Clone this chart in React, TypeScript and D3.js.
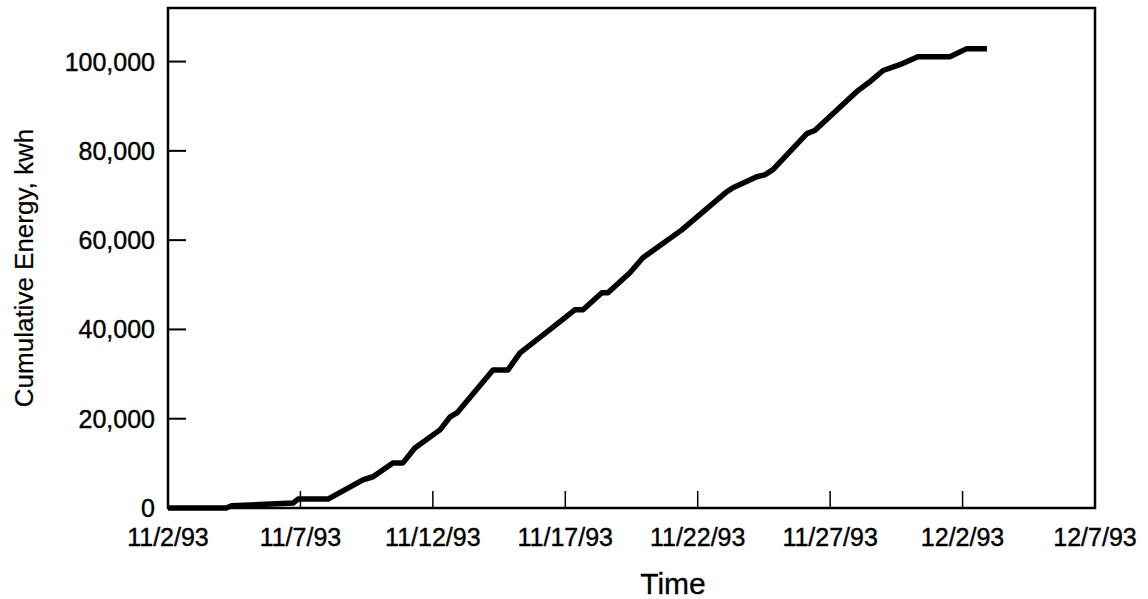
import React from "react";
import * as d3 from "d3";

// Days elapsed since 11/2/93 00:00 and cumulative energy (kWh)
const dayOffsets = [
  0, 2.2, 2.4, 4.72, 4.91, 6.04, 7.36, 7.74, 8.49, 8.87, 9.32, 10.27, 10.65, 10.91,
  12.27, 12.83, 13.29, 14.31, 15.36, 15.67, 16.38, 16.61, 17.44, 17.93, 19.4, 21.1,
  21.33, 22.23, 22.54, 22.84, 24.12, 24.42, 26.05, 26.46, 27.0, 27.63, 28.31, 29.52,
  30.16, 30.92,
];
const kwhValues = [
  0, 0, 500, 1100, 2000, 2000, 6300, 7000, 10100, 10100, 13450, 17500, 20400, 21300,
  30900, 30900, 34750, 39460, 44400, 44400, 48200, 48200, 52700, 56050, 62300, 70850,
  71750, 74200, 74650, 75800, 83850, 84550, 93500, 95300, 98000, 99300, 101100, 101100,
  102900, 102900,
];
const yTickValues = [0, 20000, 40000, 60000, 80000, 100000];
const xTickDays = [0, 5, 10, 15, 20, 25, 30, 35];
const startDate = new Date(1993, 10, 2);
const endDate = new Date(1993, 11, 7);
const yMax = 112000;
const xTitle = "Time";
const yTitle = "Cumulative Energy, kwh";

const W = 1148;
const H = 599;
const M = { left: 168, top: 8, right: 1095, bottom: 508 };
const FONT = "'Liberation Sans', Arial, Helvetica, sans-serif";
const DAY = 24 * 3600 * 1000;

export default function App() {
  const x = d3.scaleTime().domain([startDate, endDate]).range([M.left, M.right]);
  const y = d3.scaleLinear().domain([0, yMax]).range([M.bottom, M.top]);
  const toDate = (d: number) => new Date(startDate.getTime() + d * DAY);
  const data = dayOffsets.map((d, i) => ({ t: toDate(d), v: kwhValues[i] }));
  const line = d3
    .line<{ t: Date; v: number }>()
    .x((d) => x(d.t))
    .y((d) => y(d.v))
    .curve(d3.curveLinear);
  const fmtX = d3.timeFormat("%-m/%-d/%y");
  const fmtY = d3.format(",");
  const xTicks = xTickDays.map(toDate);

  return (
    <svg
      width={W}
      height={H}
      style={{ position: "absolute", left: 0, top: 0, background: "#fff" }}
      fontFamily={FONT}
    >
      <rect x={0} y={0} width={W} height={H} fill="#fff" />
      {/* Y ticks (inward) */}
      {yTickValues.map((v) => (
        <g key={v}>
          <line x1={M.left} x2={M.left + 18} y1={y(v)} y2={y(v)} stroke="#000" strokeWidth={2} />
          <text
            x={155}
            y={y(v)}
            textAnchor="end"
            dominantBaseline="central"
            fontSize={25}
            fill="#000"
            stroke="#000"
            strokeWidth={0.4}
          >
            {fmtY(v)}
          </text>
        </g>
      ))}
      {/* X ticks (inward) */}
      {xTicks.map((t, i) => (
        <g key={i}>
          <line x1={x(t)} x2={x(t)} y1={M.bottom} y2={M.bottom - 17} stroke="#000" strokeWidth={1.5} />
          <text
            x={x(t)}
            y={546}
            textAnchor="middle"
            fontSize={25}
            fill="#000"
            stroke="#000"
            strokeWidth={0.4}
          >
            {fmtX(t)}
          </text>
        </g>
      ))}
      {/* Frame */}
      <rect
        x={M.left}
        y={M.top}
        width={M.right - M.left}
        height={M.bottom - M.top}
        fill="none"
        stroke="#000"
        strokeWidth={2.5}
      />
      {/* Data line */}
      <path
        d={line(data) || ""}
        fill="none"
        stroke="#000"
        strokeWidth={5.5}
        strokeLinejoin="round"
        strokeLinecap="butt"
      />
      {/* Axis titles */}
      <text x={673} y={594} textAnchor="middle" fontSize={30} fill="#000" stroke="#000" strokeWidth={0.3}>
        {xTitle}
      </text>
      <text
        transform={`translate(33, 268) rotate(-90)`}
        textAnchor="middle"
        fontSize={26}
        fill="#000"
        stroke="#000"
        strokeWidth={0.2}
      >
        {yTitle}
      </text>
    </svg>
  );
}
